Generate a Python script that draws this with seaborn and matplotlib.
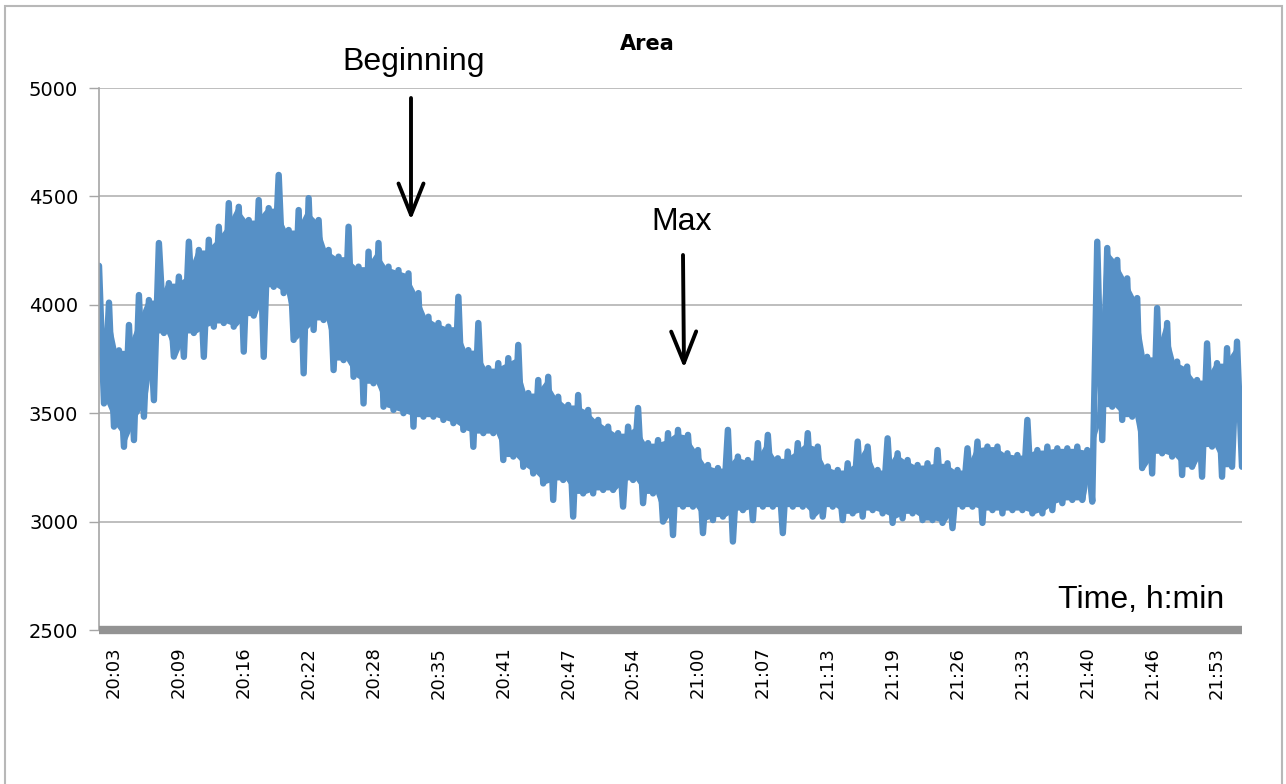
import numpy as np
import pandas as pd
import matplotlib
matplotlib.use("Agg")
import matplotlib.pyplot as plt
import seaborn as sns
from matplotlib.patches import Rectangle

# Area trace: top and bottom of the noisy band,
# one pair for every ~10 px of the time axis (20:03 -> 21:55)
area_high = [
    4180, 4010, 3790, 3907, 4045, 4022, 4285, 4100, 4130, 4291,
    4253, 4300, 4360, 4469, 4452, 4391, 4483, 4446, 4599, 4345,
    4437, 4492, 4391, 4253, 4222, 4360, 4176, 4245, 4285, 4176,
    4160, 4145, 4054, 3945, 3916, 3899, 4037, 3791, 3916, 3708,
    3731, 3754, 3815, 3593, 3653, 3668, 3576, 3538, 3584, 3515,
    3469, 3438, 3408, 3438, 3524, 3362, 3376, 3408, 3423, 3400,
    3330, 3261, 3247, 3423, 3300, 3284, 3362, 3400, 3292, 3323,
    3362, 3408, 3346, 3254, 3238, 3269, 3369, 3346, 3238, 3384,
    3315, 3284, 3261, 3269, 3330, 3269, 3238, 3338, 3369, 3346,
    3346, 3315, 3307, 3469, 3330, 3346, 3338, 3338, 3346, 3330,
    4291, 4262, 4207, 4122, 4031, 3760, 3985, 3916, 3738, 3715,
    3653, 3822, 3731, 3800, 3830,
]
area_low = [
    3545, 3438, 3345, 3376, 3484, 3560, 3870, 3761, 3760, 3870,
    3760, 3899, 3916, 3899, 3784, 3950, 3760, 4083, 4054, 3838,
    3684, 3884, 3930, 3699, 3745, 3668, 3545, 3638, 3530, 3515,
    3500, 3438, 3484, 3484, 3469, 3454, 3423, 3345, 3408, 3408,
    3284, 3300, 3253, 3222, 3176, 3100, 3192, 3023, 3130, 3130,
    3146, 3146, 3069, 3192, 3085, 3130, 3000, 2938, 3069, 3069,
    2947, 3007, 3023, 2908, 3053, 3007, 3069, 3069, 2947, 3069,
    3069, 3023, 3023, 3069, 3007, 3038, 3023, 3053, 3038, 2994,
    3015, 3038, 3007, 3007, 2994, 2970, 3069, 3069, 2994, 3053,
    3038, 3053, 3053, 3038, 3038, 3053, 3085, 3100, 3100, 3092,
    3376, 3530, 3469, 3484, 3247, 3222, 3315, 3300, 3215, 3253,
    3207, 3346, 3207, 3253, 3253,
]
time_labels = [
    "20:03", "20:09", "20:16", "20:22", "20:28", "20:35", "20:41", "20:47", "20:54",
    "21:00", "21:07", "21:13", "21:19", "21:26", "21:33", "21:40", "21:46", "21:53",
]
area_ticks = [2500, 3000, 3500, 4000, 4500, 5000]

area = [v for pair in zip(area_high, area_low) for v in pair]
df = pd.DataFrame({"sample": np.arange(len(area)), "area": area})

# solid core of the band, pinched between neighbouring pairs so the spikes stick out
band = pd.DataFrame({"high": area_high, "low": area_low})
core = pd.DataFrame({
    "x": np.arange(len(band) - 1) * 2 + 1.5,
    "top": np.minimum(band["high"].values[:-1], band["high"].values[1:]),
    "bot": np.maximum(band["low"].values[:-1], band["low"].values[1:]),
})

W, H = 1286, 784
BLUE = "#5690c6"
sns.set_style("white")
plt.rcParams["font.family"] = ["DejaVu Sans"]
plt.rcParams["text.color"] = "black"

fig = plt.figure(figsize=(W / 100, H / 100), dpi=100)
ax = fig.add_axes([99 / W, 1 - 630 / H, (1242 - 99) / W, (630 - 88) / H])

ax.fill_between(core["x"], core["bot"], core["top"], color=BLUE, linewidth=0)
sns.lineplot(data=df, x="sample", y="area", ax=ax, color=BLUE, linewidth=4.6)
for ln in ax.lines:
    ln.set_solid_joinstyle("round")
    ln.set_solid_capstyle("round")

ax.set_xlim(0, len(area) - 1)
ax.set_ylim(area_ticks[0], area_ticks[-1])
ax.set_yticks(area_ticks)
ax.set_yticklabels([str(t) for t in area_ticks], fontsize=14)
tick_pos = [3 + 13 * i for i in range(len(time_labels))]
ax.set_xticks(tick_pos)
ax.set_xticklabels(time_labels, rotation=90, fontsize=13)
ax.tick_params(axis="x", length=0, pad=12, labelcolor="black")
ax.tick_params(axis="y", length=7, width=1, color="#a6a6a6", pad=8,
               direction="out", left=True, labelcolor="black")
ax.set_xlabel("")
ax.set_ylabel("")

ax.grid(axis="y", color="#b3b3b3", linewidth=1.2)
ax.set_axisbelow(True)
for side in ["top", "right"]:
    ax.spines[side].set_visible(False)
ax.spines["left"].set_color("#a6a6a6")
ax.spines["left"].set_linewidth(1.2)
ax.spines["bottom"].set_color("#939393")
ax.spines["bottom"].set_linewidth(6)
ax.spines["bottom"].set_capstyle("butt")

# outer frame of the pasted chart
fig.patches.append(Rectangle((5 / W, -0.02), (1282 - 5) / W, 1.02 - 6 / H,
                             transform=fig.transFigure, fill=False,
                             edgecolor="#b8b8b8", linewidth=1.5))

fig.text(647 / W, 1 - 44 / H, "Area", ha="center", va="center",
         fontsize=15, fontweight="bold")
fig.text(414 / W, 1 - 62 / H, "Beginning", ha="center", va="center",
         fontsize=23, family="Liberation Sans")
fig.text(682 / W, 1 - 222 / H, "Max", ha="center", va="center",
         fontsize=23, family="Liberation Sans")
fig.text(1224 / W, 1 - 600 / H, "Time, h:min", ha="right", va="center",
         fontsize=23, family="Liberation Sans")

arrow_style = dict(arrowstyle="->,head_length=1.5,head_width=0.6", lw=2.8,
                   color="black", mutation_scale=15, shrinkA=0, shrinkB=0)
ax.annotate("", xy=(411 / W, 1 - 220 / H), xytext=(411 / W, 1 - 98 / H),
            xycoords="figure fraction", textcoords="figure fraction",
            arrowprops=arrow_style, annotation_clip=False)
ax.annotate("", xy=(684 / W, 1 - 368 / H), xytext=(683 / W, 1 - 255 / H),
            xycoords="figure fraction", textcoords="figure fraction",
            arrowprops=arrow_style, annotation_clip=False)

fig.savefig("out.png", dpi=100)
